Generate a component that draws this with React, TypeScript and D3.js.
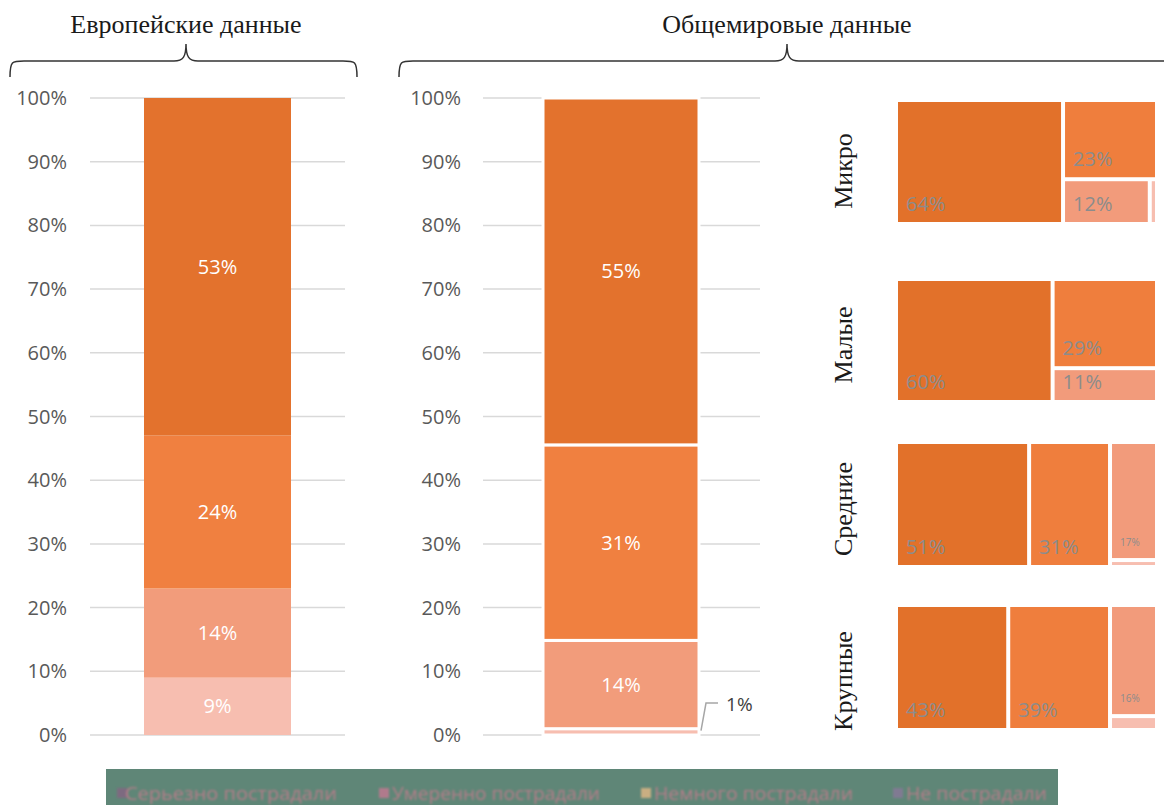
import React from "react";
import * as d3 from "d3";

const W = 1164;
const H = 805;

const yTicks = [0, 10, 20, 30, 40, 50, 60, 70, 80, 90, 100];
const categories = ["Серьезно пострадали", "Умеренно пострадали", "Немного пострадали", "Не пострадали"];
const segKeys = ["none", "slight", "moderate", "severe"]; // bottom to top
const euroValues = [9, 14, 24, 53];
const worldValues = [1, 14, 31, 55];
const segColors = ["#F7BEB0", "#F29C7B", "#F08040", "#E3722D"];

const sizeLabels = ["Микро", "Малые", "Средние", "Крупные"];
const microValues = [64, 23, 12, 1];
const smallValues = [60, 29, 11, 0];
const mediumValues = [51, 31, 17, 1];
const largeValues = [43, 39, 16, 2];
const tmColors = ["#E2712A", "#EF7E3D", "#F29B7B", "#F7BEB0"];

const legendSwatch = ["#7D6A80", "#B07A8C", "#C9AE82", "#807A92"];

const fontSans = "'Open Sans', 'Noto Sans', sans-serif";
const fontSerif = "'Liberation Serif', 'DejaVu Serif', serif";

function brace(x0: number, x1: number, tip: number, yEnd: number, yLine: number, yTip: number) {
  const r = 14;
  return `M${x0},${yEnd} C${x0},${yLine} ${x0 + 2},${yLine} ${x0 + r},${yLine}
    L${tip - 12},${yLine} C${tip - 3},${yLine} ${tip},${yLine - 4} ${tip},${yTip}
    C${tip},${yLine - 4} ${tip + 3},${yLine} ${tip + 12},${yLine}
    L${x1 - r},${yLine} C${x1 - 2},${yLine} ${x1},${yLine} ${x1},${yEnd}`;
}

function StackedBar({ values, axisX, gridX0, gridX1, barX0, barX1, separators, hideSmall }: any) {
  const y = d3.scaleLinear().domain([0, 100]).range([735, 98]);
  const row: any = {};
  segKeys.forEach((k, i) => (row[k] = values[i]));
  const stack = d3.stack().keys(segKeys);
  if (separators) stack.offset(d3.stackOffsetExpand);
  const series = stack([row]);
  const f = separators ? 100 : 1;
  return (
    <g>
      {yTicks.map((t) => (
        <g key={t}>
          <line x1={gridX0} x2={gridX1} y1={y(t)} y2={y(t)} stroke="#D9D9D9" strokeWidth={1.5} />
          <text x={axisX} y={y(t)} dy="0.35em" textAnchor="end" fontSize={20} fill="#595959" fontFamily={fontSans}>
            {t}%
          </text>
        </g>
      ))}
      {series.map((s: any, i: number) => {
        const d = s[0];
        const top = y(d[1] * f);
        const bot = y(d[0] * f);
        return (
          <g key={i}>
            <rect
              x={barX0}
              y={top}
              width={barX1 - barX0}
              height={Math.max(0, bot - top)}
              fill={segColors[i]}
              stroke={separators ? "#FFFFFF" : "none"}
              strokeWidth={separators ? 3 : 0}
            />
            {!(hideSmall && i === 0) && (
              <text
                x={(barX0 + barX1) / 2}
                y={(top + bot) / 2}
                dy="0.35em"
                textAnchor="middle"
                fontSize={20}
                fill="#FFFFFF"
                fontFamily={fontSans}
              >
                {values[i]}%
              </text>
            )}
          </g>
        );
      })}
    </g>
  );
}

function Treemap({ values, x0, y0, w, h }: any) {
  const data = {
    name: "root",
    children: values.map((v: number, i: number) => ({ name: categories[i], value: v, idx: i })),
  };
  const root = d3.hierarchy(data as any).sum((d: any) => d.value || 0);
  d3.treemap().tile(d3.treemapSquarify.ratio(1)).size([w, h]).paddingInner(4).round(false)(root as any);
  const leaves = root.leaves().filter((l: any) => l.data.value > 0);
  return (
    <g transform={`translate(${x0},${y0})`}>
      {leaves.map((l: any, i: number) => {
        const lw = l.x1 - l.x0;
        const lh = l.y1 - l.y0;
        const small = lw < 60;
        const tiny = lw < 12 || lh < 12;
        return (
          <g key={i}>
            <rect x={l.x0} y={l.y0} width={lw} height={lh} fill={tmColors[l.data.idx]} />
            {!tiny && (
              <text
                x={l.x0 + 8}
                y={l.y1 - (small ? 12 : 11)}
                fontSize={small ? 10 : 20}
                fill="#8C8C8C"
                fontFamily={fontSans}
              >
                {l.data.value}%
              </text>
            )}
          </g>
        );
      })}
    </g>
  );
}

export default function App() {
  const tmRows = [
    { values: microValues, y: 102, h: 120, label: sizeLabels[0], ly: 171 },
    { values: smallValues, y: 281, h: 119, label: sizeLabels[1], ly: 345 },
    { values: mediumValues, y: 444, h: 121, label: sizeLabels[2], ly: 509 },
    { values: largeValues, y: 607, h: 121, label: sizeLabels[3], ly: 681 },
  ];
  const yW = d3.scaleLinear().domain([0, 100]).range([735, 98]);
  const onePct = yW((worldValues[0] / d3.sum(worldValues)) * 100);
  const legendItems = [
    { sx: 117, tx: 125, tl: 212 },
    { sx: 379, tx: 392, tl: 208 },
    { sx: 641, tx: 654, tl: 199 },
    { sx: 893, tx: 906, tl: 141 },
  ];
  return (
    <svg width={W} height={H} style={{ position: "absolute", left: 0, top: 0 }}>
      <rect x={0} y={0} width={W} height={H} fill="#FFFFFF" />
      <text x={186} y={33} textAnchor="middle" fontSize={26} fill="#1A1A1A" fontFamily={fontSerif}>
        Европейские данные
      </text>
      <text x={787} y={33} textAnchor="middle" fontSize={26} fill="#1A1A1A" fontFamily={fontSerif}>
        Общемировые данные
      </text>
      <path d={brace(10, 357, 186, 77, 61, 44)} fill="none" stroke="#333" strokeWidth={1.5} />
      <path d={brace(399, 1180, 787, 77, 61, 44)} fill="none" stroke="#333" strokeWidth={1.5} />

      <StackedBar values={euroValues} axisX={67} gridX0={90} gridX1={345} barX0={144} barX1={291} separators={false} />
      <StackedBar
        values={worldValues}
        axisX={461}
        gridX0={483}
        gridX1={760}
        barX0={543}
        barX1={699}
        separators={true}
        hideSmall={true}
      />
      <polyline points={`701,${onePct + 2} 706,703 718,703`} fill="none" stroke="#A6A6A6" strokeWidth={1.5} />
      <text x={726} y={704} dy="0.35em" fontSize={19} fill="#404040" fontFamily={fontSans}>
        {worldValues[0]}%
      </text>

      {tmRows.map((r, i) => (
        <g key={i}>
          <text
            transform={`translate(852,${r.ly}) rotate(-90)`}
            textAnchor="middle"
            fontSize={26}
            fill="#1A1A1A"
            fontFamily={fontSerif}
          >
            {r.label}
          </text>
          <Treemap values={r.values} x0={898} y0={r.y} w={257} h={r.h} />
        </g>
      ))}

      <defs>
        <filter id="blur">
          <feGaussianBlur stdDeviation="0.8" />
        </filter>
      </defs>
      <rect x={106} y={769} width={952} height={40} fill="#5F8677" />
      <g filter="url(#blur)">
        {categories.map((c, i) => (
          <g key={i}>
            <rect x={legendItems[i].sx} y={788} width={10} height={10} fill={legendSwatch[i]} />
            <text
              x={legendItems[i].tx}
              y={793}
              dy="0.35em"
              fontSize={19}
              fill="#B57D89"
              fontFamily={fontSans}
              textLength={legendItems[i].tl}
              lengthAdjust="spacingAndGlyphs"
            >
              {c}
            </text>
          </g>
        ))}
      </g>
    </svg>
  );
}
